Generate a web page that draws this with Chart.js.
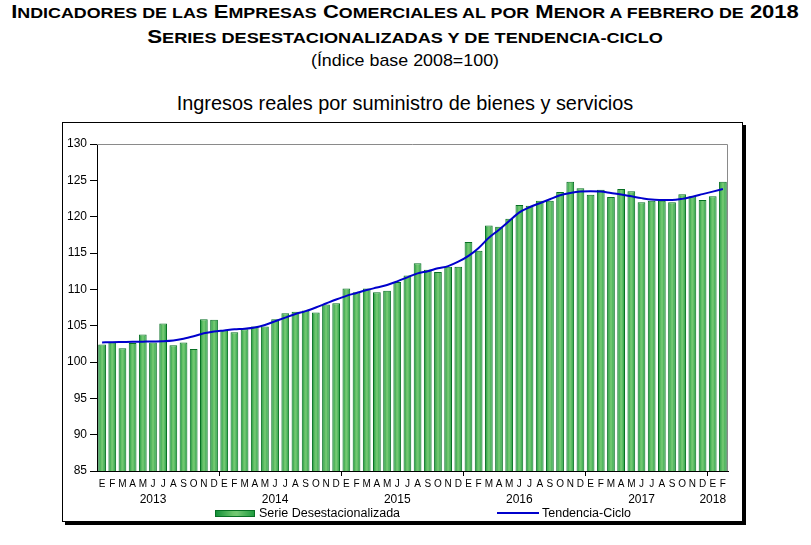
<!DOCTYPE html>
<html lang="es">
<head>
    <meta charset="UTF-8">
    <title>Ingresos reales por suministro de bienes y servicios</title>
    <script src="https://cdn.jsdelivr.net/npm/chart.js"></script>
    <style>
        body {
            margin: 0;
            width: 811px;
            height: 545px;
            background: #fff;
            font-family: "Liberation Sans", Arial, sans-serif;
            color: #000;
            position: relative;
            overflow: hidden;
        }

        .line {
            position: absolute;
            left: 0;
            width: 810px;
            text-align: center;
            white-space: nowrap;
            transform-origin: 405px 0;
        }

        .t1 {
            top: 3px;
            font-weight: bold;
            font-size: 18.5px;
            line-height: 18.5px;
            transform: scaleX(1.19);
        }

        .t2 {
            top: 28px;
            font-weight: bold;
            font-size: 18.5px;
            line-height: 18.5px;
            transform: scaleX(1.209);
        }

        .sc {
            font-size: 15px;
        }

        .t3 {
            top: 52px;
            font-size: 17px;
            line-height: 17px;
            transform: scaleX(1.05);
        }

        .t4 {
            top: 94px;
            font-size: 19.9px;
            line-height: 19.9px;
        }

        .box {
            position: absolute;
            left: 62px;
            top: 122px;
            width: 679px;
            height: 398px;
            border: 1px solid #000;
            box-shadow: 3px 3px 0 #000;
        }

        .legend {
            position: absolute;
            top: 506px;
            font-size: 12.5px;
            line-height: 14px;
            white-space: nowrap;
        }

        .swatch {
            position: absolute;
            left: 215px;
            top: 510px;
            width: 38px;
            height: 5px;
            border: 1px solid #087024;
            background: linear-gradient(to right, #139038, #6cc56c 45%, #74c874 55%, #1f9c3e);
        }

        .trend-line {
            position: absolute;
            left: 497px;
            top: 512px;
            width: 42px;
            height: 2px;
            background: #0000cc;
        }
    </style>
</head>
<body>
    <div class="line t1">I<span class="sc">NDICADORES DE LAS</span> E<span class="sc">MPRESAS</span> C<span class="sc">OMERCIALES AL POR</span> M<span class="sc">ENOR A FEBRERO DE</span> 2018</div>
    <div class="line t2">S<span class="sc">ERIES DESESTACIONALIZADAS Y DE TENDENCIA-CICLO</span></div>
    <div class="line t3">(Índice base 2008=100)</div>
    <div class="line t4">Ingresos reales por suministro de bienes y servicios</div>

    <div class="box">
        <canvas id="chart" width="679" height="398"></canvas>
    </div>

    <div class="swatch"></div>
    <div class="legend" style="left: 259px;">Serie Desestacionalizada</div>
    <div class="trend-line"></div>
    <div class="legend" style="left: 542px;">Tendencia-Ciclo</div>

    <script>
        // E F M A M J J A S O N D, enero 2013 a febrero 2018
        const meses = ['E', 'F', 'M', 'A', 'M', 'J', 'J', 'A', 'S', 'O', 'N', 'D'];
        const anios = ['2013', '2014', '2015', '2016', '2017', '2018'];

        const serieDesestacionalizada = [
            102.4, 102.8, 101.9, 102.6, 103.8, 102.7, 105.3, 102.3, 102.7, 101.8, 105.9, 105.8,
            104.4, 104.1, 104.5, 104.9, 104.9, 105.9, 106.7, 106.9, 107.1, 106.8, 107.9, 108.1,
            110.1, 109.6, 110.1, 109.6, 109.8, 111.0, 111.9, 113.6, 112.7, 112.4, 113.1, 113.1,
            116.5, 115.3, 118.8, 118.6, 119.7, 121.6, 121.5, 122.2, 122.2, 123.4, 124.8, 123.9,
            123.0, 123.7, 122.7, 123.8, 123.5, 122.0, 122.2, 122.2, 122.0, 123.1, 122.8, 122.3,
            122.8, 124.8
        ];

        const tendenciaCiclo = [
            102.7, 102.72, 102.75, 102.78, 102.8, 102.82, 102.85, 102.95, 103.2, 103.55, 103.95, 104.2,
            104.35, 104.5, 104.58, 104.75, 105.1, 105.6, 106.1, 106.6, 107.0, 107.5, 108.05, 108.6,
            109.1, 109.5, 109.9, 110.25, 110.6, 111.1, 111.65, 112.2, 112.5, 112.9, 113.2, 113.8,
            114.6, 115.7, 117.1, 118.2, 119.4, 120.6, 121.3, 121.85, 122.4, 122.95, 123.25, 123.45,
            123.5, 123.45, 123.25, 123.05, 122.8, 122.55, 122.35, 122.3, 122.28, 122.45, 122.75, 123.1,
            123.45, 123.8
        ];

        const yTicks = [85, 90, 95, 100, 105, 110, 115, 120, 125, 130];

        // etiquetas: letra del mes, y el anio bajo junio (enero en 2018)
        const etiquetasMes = serieDesestacionalizada.map((v, i) => meses[i % 12]);
        const etiquetasAnio = serieDesestacionalizada.map((v, i) => {
            const a = Math.floor(i / 12);
            const m = i % 12;
            if (anios[a] === '2018') return m === 0 ? anios[a] : '';
            return m === 5 ? anios[a] : '';
        });

        const BAR_PCT = 0.76;

        function barGradient(context) {
            const chart = context.chart;
            const x = chart.scales.x;
            if (!chart.chartArea || !x) return '#3cae4f';
            const cx = x.getPixelForValue(context.dataIndex);
            const w = (x.width / serieDesestacionalizada.length) * BAR_PCT;
            const g = chart.ctx.createLinearGradient(cx - w / 2, 0, cx + w / 2, 0);
            g.addColorStop(0, '#139038');
            g.addColorStop(0.4, '#6cc56c');
            g.addColorStop(0.55, '#74c874');
            g.addColorStop(1, '#1f9c3e');
            return g;
        }

        const frame = {
            id: 'frame',
            beforeDatasetsDraw(chart) {
                const { ctx, chartArea: a } = chart;
                ctx.save();
                ctx.strokeStyle = '#8a8a8a';
                ctx.lineWidth = 1;
                ctx.beginPath();
                ctx.moveTo(a.left, a.top + 0.5);
                ctx.lineTo(a.right - 0.5, a.top + 0.5);
                ctx.lineTo(a.right - 0.5, a.bottom);
                ctx.stroke();
                ctx.restore();
            }
        };

        new Chart(document.getElementById('chart'), {
            data: {
                labels: etiquetasMes,
                datasets: [
                    {
                        type: 'line',
                        label: 'Tendencia-Ciclo',
                        data: tendenciaCiclo,
                        borderColor: '#0000cc',
                        borderWidth: 2,
                        pointRadius: 0,
                        cubicInterpolationMode: 'monotone',
                        fill: false,
                        order: 0
                    },
                    {
                        type: 'bar',
                        label: 'Serie Desestacionalizada',
                        data: serieDesestacionalizada,
                        backgroundColor: barGradient,
                        borderColor: '#087024',
                        borderWidth: 1,
                        categoryPercentage: 1,
                        barPercentage: BAR_PCT,
                        order: 1
                    }
                ]
            },
            options: {
                responsive: false,
                animation: false,
                layout: {
                    padding: { top: 21, right: 14, bottom: 11, left: 0 }
                },
                plugins: {
                    legend: { display: false },
                    tooltip: { enabled: false }
                },
                scales: {
                    x: {
                        type: 'category',
                        position: 'bottom',
                        offset: true,
                        grid: {
                            offset: true,
                            drawOnChartArea: false,
                            tickLength: 5,
                            tickColor: (c) => (c.index > 0 && c.index % 12 === 0) ? '#000' : 'rgba(0,0,0,0)'
                        },
                        border: { color: '#000', width: 1 },
                        ticks: {
                            autoSkip: false,
                            maxRotation: 0,
                            minRotation: 0,
                            padding: 2,
                            color: '#000',
                            font: { family: '"Liberation Sans", Arial, sans-serif', size: 10 }
                        },
                        afterFit: (s) => { s.height = 19; }
                    },
                    x2: {
                        type: 'category',
                        position: 'bottom',
                        offset: true,
                        labels: etiquetasAnio,
                        grid: { display: false, drawTicks: false },
                        border: { display: false },
                        ticks: {
                            autoSkip: false,
                            maxRotation: 0,
                            minRotation: 0,
                            padding: 2,
                            color: '#000',
                            font: { family: '"Liberation Sans", Arial, sans-serif', size: 12 }
                        },
                        afterFit: (s) => { s.height = 20; }
                    },
                    y: {
                        min: yTicks[0],
                        max: yTicks[yTicks.length - 1],
                        afterBuildTicks: (s) => { s.ticks = yTicks.map(v => ({ value: v })); },
                        grid: {
                            drawOnChartArea: false,
                            tickLength: 7,
                            tickColor: '#000'
                        },
                        border: { color: '#000', width: 1 },
                        ticks: {
                            padding: 3,
                            color: '#000',
                            font: { family: '"Liberation Sans", Arial, sans-serif', size: 12 }
                        },
                        afterFit: (s) => { s.width = 34; }
                    }
                }
            },
            plugins: [frame]
        });
    </script>
</body>
</html>
